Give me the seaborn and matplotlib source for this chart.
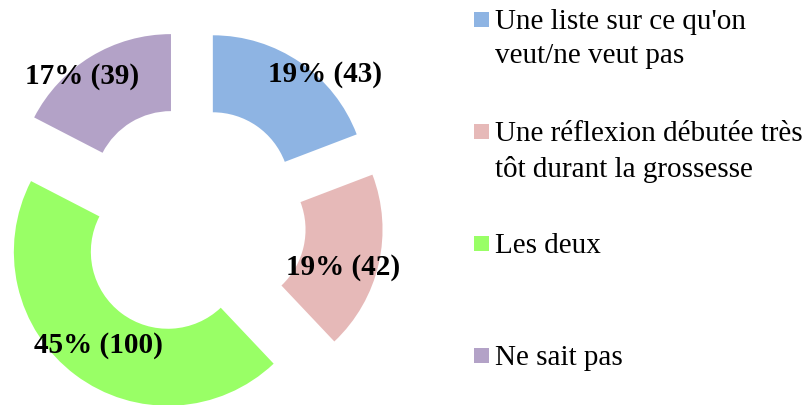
import matplotlib
matplotlib.use("Agg")
import matplotlib.pyplot as plt
from matplotlib.patches import Rectangle
import seaborn as sns

# Données ---------------------------------------------------------------------------------
categories = [
    "Une liste sur ce qu'on\nveut/ne veut pas",
    "Une réflexion débutée très\ntôt durant la grossesse",
    "Les deux",
    "Ne sait pas",
]
effectifs = [43, 42, 100, 39]
couleurs = ["#8EB4E3", "#E6B9B8", "#99FF66", "#B3A2C7"]

# positions des étiquettes (unités du rayon)
pos_etiquettes = [(0.87, 0.95), (0.99, -0.30), (-0.60, -0.81), (-0.71, 0.94)]

sns.set_theme(style="white")
plt.rcParams["font.family"] = ["Liberation Serif", "DejaVu Serif"]

W, H = 811, 405
fig = plt.figure(figsize=(W / 100, H / 100), dpi=100)

# Anneau -----------------------------------------------------------------------------------
cx, cy, R = 191, 221, 154
ax = fig.add_axes([0, 0, 2 * cx / W, 1])
ax.pie(effectifs, colors=couleurs, startangle=90, counterclock=False,
       explode=[0.25] * len(effectifs), radius=1,
       wedgeprops=dict(width=0.5, edgecolor="none"))
ax.set_xlim(-cx / R, cx / R)
ax.set_ylim((cy - H) / R, cy / R)
ax.set_aspect("auto")
ax.axis("off")

total = sum(effectifs)
for v, (x, y) in zip(effectifs, pos_etiquettes):
    ax.text(x, y, f"{v / total:.0%} ({v})", ha="center", va="center",
            fontsize=21, fontweight="bold", color="black")

# Légende ----------------------------------------------------------------------------------
for i, (cat, col) in enumerate(zip(categories, couleurs)):
    base = 30 + i * 112  # ligne de base de la première ligne (px)
    fig.add_artist(Rectangle((474 / W, 1 - (base - 3) / H), 15 / W, 15 / H,
                             transform=fig.transFigure, facecolor=col, edgecolor="none"))
    fig.text(495 / W, 1 - (base - 21) / H, cat, ha="left", va="top",
             fontsize=21, color="black", linespacing=1.42)

fig.savefig("out.png", dpi=100)
